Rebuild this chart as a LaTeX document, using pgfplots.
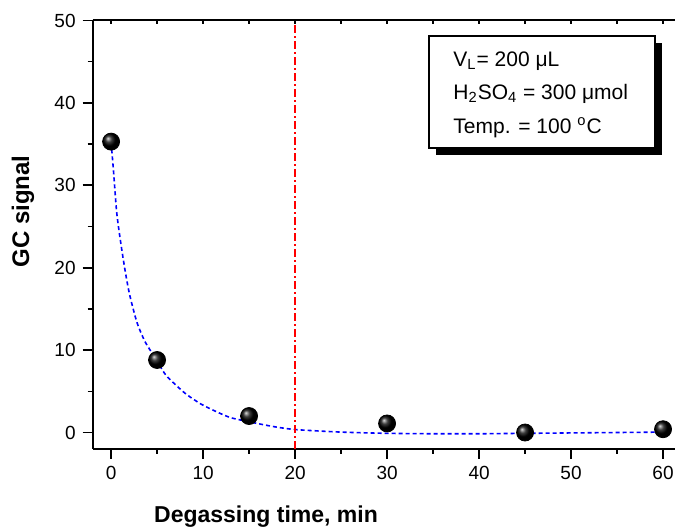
\documentclass[border=0pt]{standalone}
\usepackage{pgfplots}
\pgfplotsset{compat=1.18}
\usepackage{fontspec}
\setmainfont{Liberation Sans}
\newcommand{\mumu}{\symbol{"03BC}}

\begin{document}
\begin{tikzpicture}
  \begin{axis}[
      scale only axis,
      width=291.15pt,
      height=214.25pt,
      xmin=-2, xmax=61.3,
      ymin=-2, ymax=50,
      axis x line*=bottom,
      axis y line*=left,
      axis line style={line width=1pt},
      tick style={line width=0.8pt, black},
      tick align=outside,
      major tick length=5pt,
      minor tick length=2.5pt,
      xtick={0,10,...,60},
      ytick={0,10,...,50},
      minor tick num=1,
      /pgf/number format/assume math mode=true,
      tick label style={font=\fontsize{9.5}{11}\selectfont},
      clip=false,
    ]
    % fitted decay (dashed blue)
    \addplot[blue, line width=0.8pt, dash pattern=on 2pt off 1.5pt, smooth, tension=0.4] coordinates {
      (0,35.2) (0.25,31.9) (0.6,26.8) (1,23.4) (1.5,19.8) (2,16.8)
      (2.8,13.4) (3.7,11.0) (5,8.7) (6,6.9) (8,4.8) (9.7,3.5)
      (11.5,2.5) (13,1.8) (15,1.3) (17.5,0.75) (20,0.36) (25,0.05)
      (30,-0.1) (35,-0.15) (40,-0.15) (45,-0.1) (50,-0.05) (55,0) (60,0.05)
    };

    % measured points
    \addplot[only marks, mark=ball, mark size=4.25pt, mark options={ball color=black}] coordinates {
      (0,35.3) (5,8.8) (15,2.0) (30,1.1) (45,0.0) (60,0.4)
    };

    % 20 min marker line
    \addplot[red, line width=0.8pt, dash pattern=on 4pt off 1.5pt on 1pt off 1.5pt] coordinates {(20,-2) (20,50)};

    % top axis line with small inward ticks
    \draw[line width=1pt] (rel axis cs:0,1) -- (rel axis cs:1,1);
    \pgfplotsinvokeforeach{0,5,...,60}{
      \draw[line width=0.8pt] (axis cs:#1,50) -- ([yshift=-2pt]axis cs:#1,50);
    }

    % conditions box with shadow
    \fill[black] ([shift={(3.5pt,-3.5pt)}]rel axis cs:0.5775,0.964) rectangle ([shift={(3.5pt,-3.5pt)}]rel axis cs:0.9657,0.7025);
    \draw[fill=white, line width=0.6pt] (rel axis cs:0.5775,0.964) rectangle (rel axis cs:0.9657,0.7025);
    \node[anchor=base west, inner sep=0pt, font=\fontsize{10.5}{12}\selectfont] at (rel axis cs:0.6188,0.8925) {V\textsubscript{L}= 200 \mumu L};
    \node[anchor=base west, inner sep=0pt, font=\fontsize{10.5}{12}\selectfont] at (rel axis cs:0.6188,0.8152) {H\textsubscript{2}SO\textsubscript{4} = 300 \mumu mol};
    \node[anchor=base west, inner sep=0pt, font=\fontsize{10.5}{12}\selectfont] at (rel axis cs:0.6188,0.7358) {Temp. = 100 \textsuperscript{o}C};

    % axis titles
    \node[font=\bfseries\fontsize{11.5}{13}\selectfont] at ([yshift=-34pt]rel axis cs:0.2976,0) {Degassing time, min};
    \node[font=\bfseries\fontsize{12}{14}\selectfont, rotate=90] at ([xshift=-34.85pt]rel axis cs:0,0.554) {GC signal};
  \end{axis}
  \pgfresetboundingbox
  \path ([shift={(-46.35pt,-39.5pt)}]current axis.south west) rectangle ([shift={(0pt,10.25pt)}]current axis.north east);
\end{tikzpicture}
\end{document}
